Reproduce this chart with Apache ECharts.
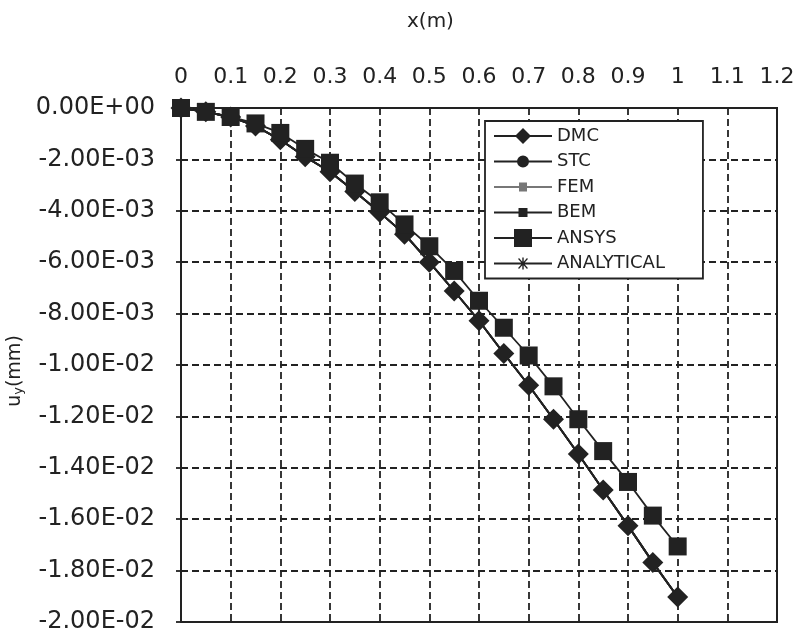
<!DOCTYPE html>
<html>
<head>
<meta charset="utf-8">
<script src="https://cdn.jsdelivr.net/npm/echarts@6/dist/echarts.min.js"></script>
<style>
html,body{margin:0;padding:0;background:#fff;}
#chart{width:796px;height:636px;}
</style>
</head>
<body>
<div id="chart"></div>
<script>
// x positions (m)
const xValues = [0, 0.05, 0.1, 0.15, 0.2, 0.25, 0.3, 0.35, 0.4, 0.45, 0.5, 0.55, 0.6, 0.65, 0.7, 0.75, 0.8, 0.85, 0.9, 0.95, 1.0];
// u_y (mm) per method
const dmc        = [0, -0.00015, -0.00035, -0.0007, -0.00124, -0.0019, -0.00248, -0.00325, -0.00406, -0.00491, -0.0060, -0.00712, -0.00828, -0.00955, -0.01079, -0.01211, -0.01346, -0.01486, -0.01625, -0.01768, -0.01903];
const stc        = [0, -0.00015, -0.00035, -0.0007, -0.00124, -0.0019, -0.00248, -0.00325, -0.00406, -0.00491, -0.0060, -0.00712, -0.00828, -0.00955, -0.01079, -0.01211, -0.01346, -0.01486, -0.01625, -0.01768, -0.01903];
const fem        = [0, -0.00015, -0.00035, -0.0007, -0.00124, -0.0019, -0.00248, -0.00325, -0.00406, -0.00491, -0.0060, -0.00712, -0.00828, -0.00955, -0.01079, -0.01211, -0.01346, -0.01486, -0.01625, -0.01768, -0.01903];
const bem        = [0, -0.00015, -0.00035, -0.0007, -0.00124, -0.0019, -0.00248, -0.00325, -0.00406, -0.00491, -0.0060, -0.00712, -0.00828, -0.00955, -0.01079, -0.01211, -0.01346, -0.01486, -0.01625, -0.01768, -0.01903];
const ansys      = [0, -0.00015, -0.00035, -0.0006, -0.00097, -0.00159, -0.00213, -0.00294, -0.00367, -0.00453, -0.00538, -0.00634, -0.0075, -0.00855, -0.00963, -0.01083, -0.01211, -0.01335, -0.01455, -0.01586, -0.01706];
const analytical = [0, -0.00015, -0.00035, -0.0007, -0.00124, -0.0019, -0.00248, -0.00325, -0.00406, -0.00491, -0.0060, -0.00712, -0.00828, -0.00955, -0.01079, -0.01211, -0.01346, -0.01486, -0.01625, -0.01768, -0.01903];
const seriesNames = ['DMC', 'STC', 'FEM', 'BEM', 'ANSYS', 'ANALYTICAL'];

const FONT = 'DejaVu Sans';
const INK = '#222';

function pairs(ys) { return xValues.map((x, i) => [x, ys[i]]); }
function fmtE(v) {
  if (Math.abs(v) < 1e-12) return '0.00E+00';
  const s = v.toExponential(2);
  const parts = s.split('e');
  const sign = parts[1][0];
  const d = parts[1].slice(1).padStart(2, '0');
  return parts[0] + 'E' + sign + d;
}

// legend icons: a line with the marker in its middle (path units; width always 58)
const LINE = 'M0,-1.1L58,-1.1L58,1.1L0,1.1Z';
const icons = {
  DMC: 'path://' + LINE + 'M29,-8L37,0L29,8L21,0Z',
  STC: 'path://' + LINE + 'M35,0A6,6,0,1,1,23,0A6,6,0,1,1,35,0Z',
  FEM: 'path://' + LINE + 'M25,-4.5L33,-4.5L33,4.5L25,4.5Z',
  BEM: 'path://' + LINE + 'M24.5,-4.5L33.5,-4.5L33.5,4.5L24.5,4.5Z',
  ANSYS: 'path://' + LINE + 'M20,-9L38,-9L38,9L20,9Z',
  ANALYTICAL: 'path://' + LINE +
    'M28.3,-6L29.7,-6L29.7,6L28.3,6Z' +
    'M25,-5.5L33.9,4.5L33,5.5L24.1,-4.5Z' +
    'M33,-5.5L33.9,-4.5L25,5.5L24.1,4.5Z'
};
const ASTER = 'path://M0,-5L0,5M-4.3,-2.5L4.3,2.5M-4.3,2.5L4.3,-2.5';

function mkSeries(name, data, symbol, size, color, z) {
  return {
    name: name, type: 'line', data: pairs(data),
    symbol: symbol, symbolSize: size, showSymbol: true,
    lineStyle: { color: color, width: 1.8 },
    itemStyle: { color: color, borderColor: color, borderWidth: symbol === ASTER ? 1.5 : 0 },
    z: z, animation: false
  };
}

const chart = echarts.init(document.getElementById('chart'), null, { renderer: 'canvas' });
chart.setOption({
  backgroundColor: '#fff',
  animation: false,
  textStyle: { fontFamily: FONT, color: INK },
  title: {
    text: 'x(m)', left: 402, top: 7,
    textStyle: { fontFamily: FONT, fontSize: 20, fontWeight: 'normal', color: INK }
  },
  legend: {
    orient: 'vertical', left: 485, top: 121,
    data: seriesNames.map(n => ({ name: n, icon: icons[n], itemStyle: { borderWidth: 0 } })),
    itemWidth: 58, itemHeight: 20, itemGap: 5.5,
    symbolKeepAspect: true,
    padding: [5, 38, 5, 9],
    backgroundColor: '#fff', borderColor: INK, borderWidth: 1.8,
    textStyle: { fontFamily: FONT, fontSize: 18, lineHeight: 20, color: INK },
    selectedMode: false
  },
  grid: {
    left: 181, top: 108, right: 19, bottom: 14,
    containLabel: false, outerBoundsMode: 'none',
    show: true, borderColor: INK, borderWidth: 2, backgroundColor: 'transparent'
  },
  xAxis: {
    type: 'value', position: 'top', min: 0, max: 1.2, interval: 0.1,
    axisLine: { show: true, lineStyle: { color: INK, width: 2 } },
    axisTick: { show: false },
    axisLabel: { fontFamily: FONT, fontSize: 22, color: INK, margin: 20 },
    splitLine: { show: true, lineStyle: { color: INK, width: 1.8, type: [7, 4] } }
  },
  yAxis: [{
    type: 'value', min: -0.02, max: 0, interval: 0.002,
    name: 'u{s|y}(mm)', nameLocation: 'middle', nameGap: 152, nameRotate: 90,
    nameTextStyle: {
      fontFamily: FONT, fontSize: 19, color: INK, padding: [0, 12, 0, 0],
      rich: { s: { fontFamily: FONT, fontSize: 13, color: INK, verticalAlign: 'bottom', padding: [7, 0, 0, 0] } }
    },
    axisLine: { show: true, lineStyle: { color: INK, width: 2 } },
    axisTick: { show: true, length: 5, lineStyle: { color: INK, width: 1.8 } },
    axisLabel: { fontFamily: FONT, fontSize: 24, color: INK, margin: 26, formatter: fmtE },
    splitLine: { show: true, lineStyle: { color: INK, width: 1.8, type: [7, 4] } }
  }, {
    type: 'value', min: -0.02, max: 0, interval: 0.002, position: 'left',
    axisLine: { show: false },
    axisTick: { show: true, inside: true, length: 5, lineStyle: { color: INK, width: 1.8 } },
    axisLabel: { show: false },
    splitLine: { show: false }
  }],
  series: [
    mkSeries('ANALYTICAL', analytical, ASTER, 10, INK, 2),
    mkSeries('FEM', fem, 'rect', 9, '#777', 3),
    mkSeries('BEM', bem, 'rect', 9, INK, 4),
    mkSeries('STC', stc, 'circle', 10, INK, 5),
    mkSeries('DMC', dmc, 'diamond', 21, INK, 6),
    mkSeries('ANSYS', ansys, 'rect', 18, INK, 7)
  ]
});
</script>
</body>
</html>
